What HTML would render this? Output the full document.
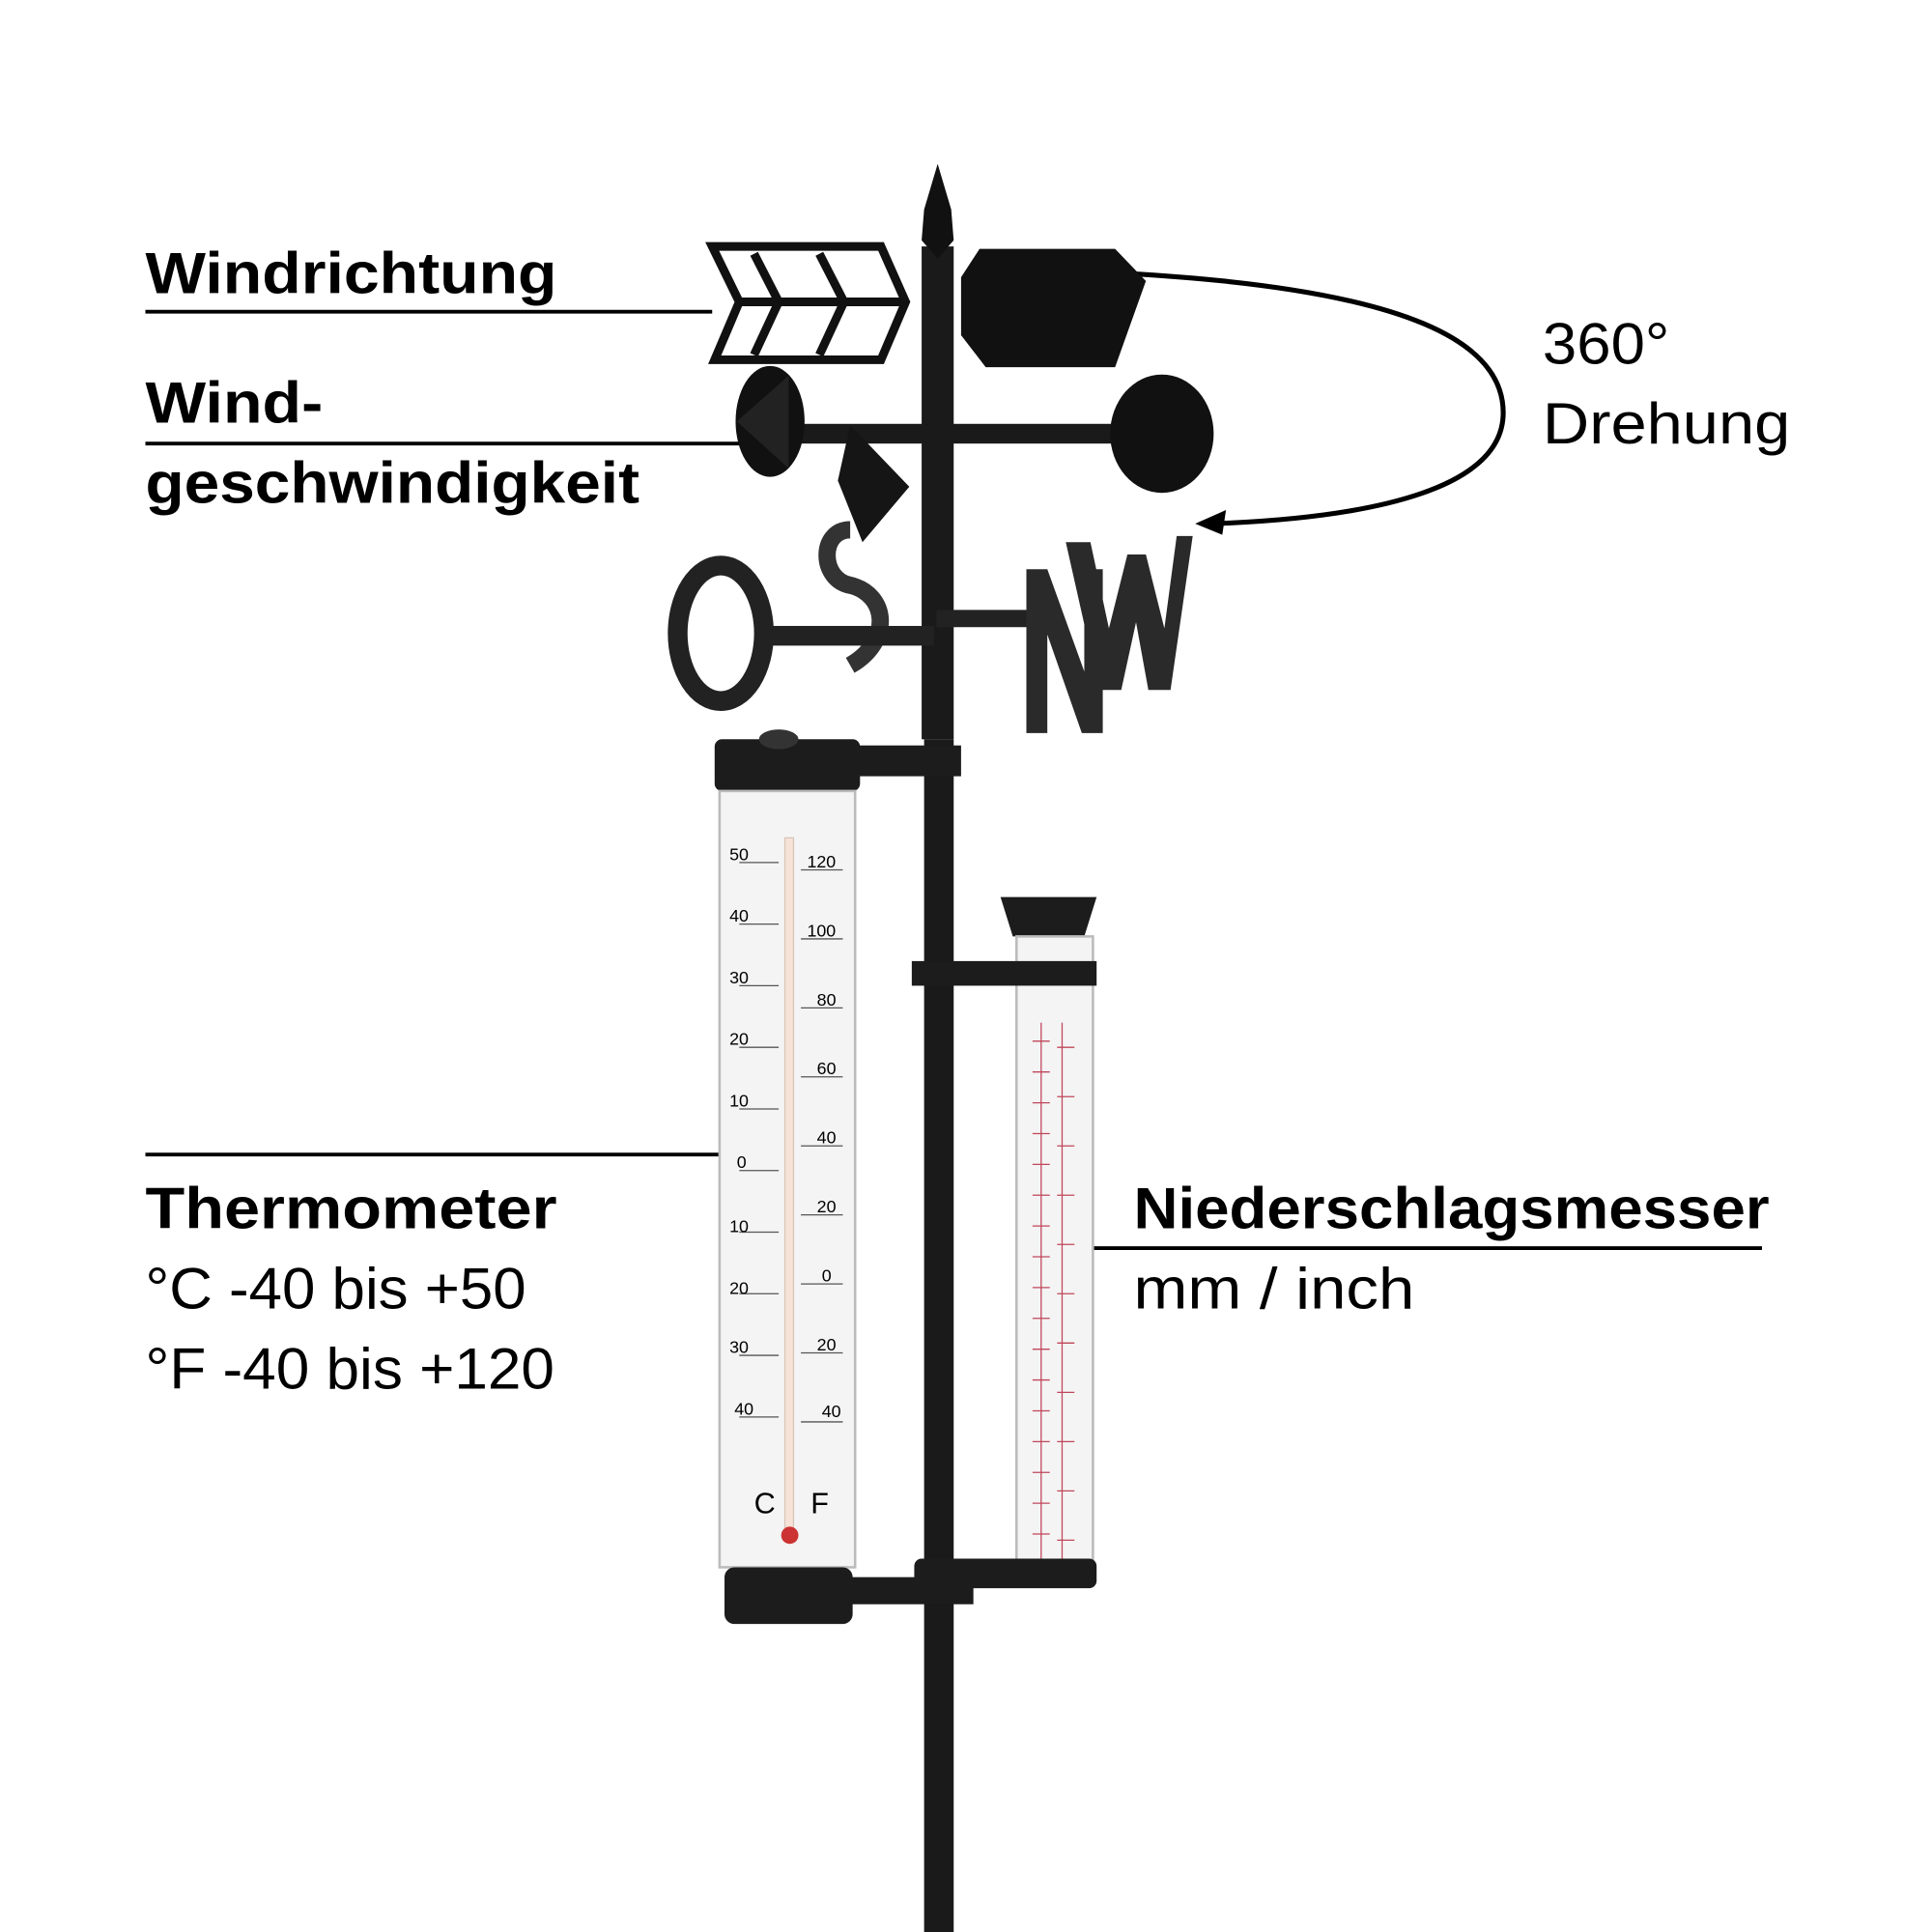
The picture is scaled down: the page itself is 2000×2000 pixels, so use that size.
<!DOCTYPE html>
<html><head><meta charset="utf-8"><style>
html,body{margin:0;padding:0;background:#fff;}
svg{display:block;}
text{font-family:"Liberation Sans",sans-serif;fill:#000;}
.b{font-weight:bold;font-size:47px;}
.r{font-size:47px;}
</style></head><body>
<svg width="2000" height="2000" viewBox="0 0 1568 1568" xmlns="http://www.w3.org/2000/svg">
<rect width="1568" height="1568" fill="#fff"/>
<!-- labels -->
<text class="b" x="118" y="238" textLength="334" lengthAdjust="spacingAndGlyphs">Windrichtung</text>
<line x1="118" y1="253" x2="578" y2="253" stroke="#000" stroke-width="3"/>
<text class="b" x="118" y="343" textLength="144" lengthAdjust="spacingAndGlyphs">Wind-</text>
<line x1="118" y1="360" x2="635" y2="360" stroke="#000" stroke-width="3"/>
<text class="b" x="118" y="408" textLength="401" lengthAdjust="spacingAndGlyphs">geschwindigkeit</text>
<text class="r" x="1252" y="295" textLength="103" lengthAdjust="spacingAndGlyphs">360°</text>
<text class="r" x="1252" y="360" textLength="201" lengthAdjust="spacingAndGlyphs">Drehung</text>
<text class="b" x="118" y="997" textLength="334" lengthAdjust="spacingAndGlyphs">Thermometer</text>
<line x1="118" y1="937" x2="595" y2="937" stroke="#000" stroke-width="3"/>
<text class="r" x="118" y="1062" textLength="309" lengthAdjust="spacingAndGlyphs">°C -40 bis +50</text>
<text class="r" x="118" y="1127" textLength="332" lengthAdjust="spacingAndGlyphs">°F -40 bis +120</text>
<text class="b" x="920" y="997" textLength="516" lengthAdjust="spacingAndGlyphs">Niederschlagsmesser</text>
<line x1="885" y1="1013" x2="1430" y2="1013" stroke="#000" stroke-width="3"/>
<text class="r" x="920" y="1062" textLength="228" lengthAdjust="spacingAndGlyphs">mm / inch</text>
<!-- arc -->
<path d="M915 222 C1150 235 1220 280 1220 335 C1220 395 1120 420 985 425" fill="none" stroke="#000" stroke-width="4"/>
<polygon points="970,425 995,414 992,434" fill="#000"/>
<!-- pole -->
<rect x="748" y="200" width="26" height="400" fill="#1a1a1a"/>
<rect x="750" y="600" width="24" height="968" fill="#1a1a1a"/>
<path d="M750 170 L761 133 L772 170 L774 195 L761 210 L748 195 Z" fill="#111"/>
<!-- arrow feathers -->
<g fill="none" stroke="#111" stroke-width="7">
<path d="M578 200 L715 200 L735 245 L715 292 L580 292 L600 245 Z"/>
<path d="M600 245 L735 245"/>
<path d="M612 206 L632 245 L612 288 M665 206 L685 245 L665 288"/>
</g>
<!-- arrow head -->
<path d="M780 225 L795 202 L905 202 L930 228 L905 298 L800 298 L780 272 Z" fill="#111"/>
<!-- anemometer -->
<rect x="620" y="344" width="310" height="16" fill="#1a1a1a"/>
<ellipse cx="625" cy="342" rx="28" ry="45" fill="#111"/>
<polygon points="598,342 640,305 640,380" fill="#222"/>
<ellipse cx="943" cy="352" rx="42" ry="48" fill="#111"/>
<polygon points="690,345 738,395 700,440 680,390" fill="#151515"/>
<!-- S letter -->
<path d="M690 430 C665 430 665 470 690 475 C720 482 725 520 690 540" fill="none" stroke="#333" stroke-width="14"/>
<!-- key -->
<ellipse cx="585" cy="514" rx="35" ry="55" fill="none" stroke="#222" stroke-width="16"/>
<rect x="618" y="508" width="140" height="16" fill="#222"/>
<rect x="760" y="495" width="80" height="14" fill="#222"/>
<!-- N W -->
<path d="M833 462 L850 462 L880 545 L880 462 L895 462 L895 595 L878 595 L850 515 L850 595 L833 595 Z" fill="#2a2a2a"/>
<path d="M865 440 L885 440 L900 510 L915 450 L930 450 L945 510 L955 435 L968 435 L950 560 L932 560 L922 505 L910 560 L892 560 Z" fill="#2a2a2a"/>
<!-- thermometer -->
<rect x="580" y="600" width="118" height="42" rx="6" fill="#1c1c1c"/>
<ellipse cx="632" cy="600" rx="16" ry="8" fill="#333"/>
<rect x="690" y="605" width="90" height="25" fill="#1c1c1c"/>
<rect x="584" y="642" width="110" height="630" fill="#f4f4f4" stroke="#bbb" stroke-width="2"/>
<rect x="637" y="680" width="7" height="560" fill="#f6e2d6" stroke="#d9c4b8"/>
<circle cx="641" cy="1246" r="7" fill="#c33"/>
<g stroke="#555" stroke-width="1">
<path d="M600 700H632M600 750H632M600 800H632M600 850H632M600 900H632M600 950H632M600 1000H632M600 1050H632M600 1100H632M600 1150H632"/>
<path d="M650 706H684M650 762H684M650 818H684M650 874H684M650 930H684M650 986H684M650 1042H684M650 1098H684M650 1154H684"/>
</g>
<g font-family="Liberation Serif" font-size="14" fill="#333">
<text x="592" y="698">50</text><text x="592" y="748">40</text><text x="592" y="798">30</text><text x="592" y="848">20</text><text x="592" y="898">10</text><text x="598" y="948">0</text><text x="592" y="1000">10</text><text x="592" y="1050">20</text><text x="592" y="1098">30</text><text x="596" y="1148">40</text>
<text x="655" y="704">120</text><text x="655" y="760">100</text><text x="663" y="816">80</text><text x="663" y="872">60</text><text x="663" y="928">40</text><text x="663" y="984">20</text><text x="667" y="1040">0</text><text x="663" y="1096">20</text><text x="667" y="1150">40</text>
<text x="612" y="1228" font-size="24">C</text><text x="658" y="1228" font-size="24">F</text>
</g>
<rect x="588" y="1272" width="104" height="46" rx="8" fill="#1c1c1c"/>
<rect x="690" y="1280" width="100" height="22" fill="#1c1c1c"/>
<!-- rain gauge -->
<path d="M812 728 L890 728 L880 760 L822 760 Z" fill="#1c1c1c"/>
<rect x="825" y="760" width="62" height="515" fill="#f4f4f4" stroke="#bbb" stroke-width="2"/>
<rect x="740" y="780" width="150" height="20" fill="#1c1c1c"/>
<g stroke="#c0475a" stroke-width="1">
<path d="M845 830V1270M862 830V1270"/>
<path d="M838 845H852M838 870H852M838 895H852M838 920H852M838 945H852M838 970H852M838 995H852M838 1020H852M838 1045H852M838 1070H852M838 1095H852M838 1120H852M838 1145H852M838 1170H852M838 1195H852M838 1220H852M838 1245H852"/>
<path d="M858 850H872M858 890H872M858 930H872M858 970H872M858 1010H872M858 1050H872M858 1090H872M858 1130H872M858 1170H872M858 1210H872M858 1250H872"/>
</g>
<rect x="742" y="1265" width="148" height="24" rx="6" fill="#1c1c1c"/>
</svg>
</body></html>
